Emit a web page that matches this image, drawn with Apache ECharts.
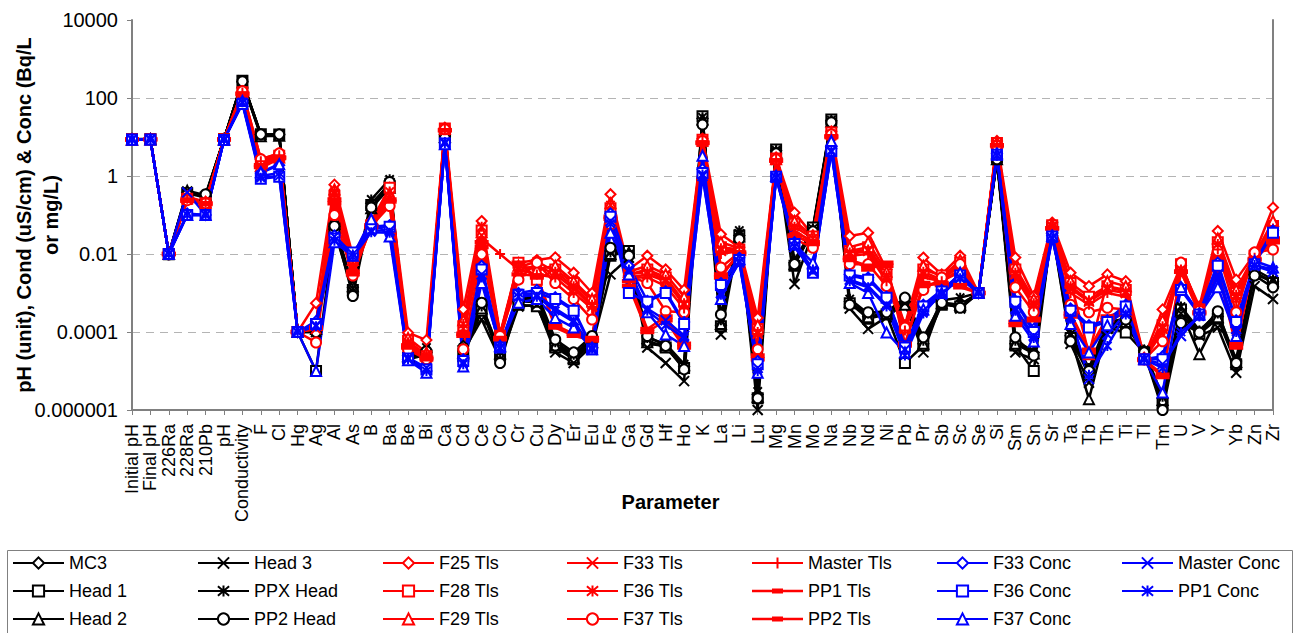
<!DOCTYPE html>
<html>
<head>
<meta charset="utf-8">
<script src="https://cdn.jsdelivr.net/npm/echarts@6/dist/echarts.min.js"></script>
<style>
  html, body { margin: 0; padding: 0; background: #fff; }
  #chart { width: 1296px; height: 633px; }
</style>
</head>
<body>
<div id="chart"></div>
<script>
// Parameters along the x axis
const categories = ['Initial pH', 'Final pH', '226Ra', '228Ra', '210Pb', 'pH', 'Conductivity', 'F', 'Cl', 'Hg',
  'Ag', 'Al', 'As', 'B', 'Ba', 'Be', 'Bi', 'Ca', 'Cd', 'Ce',
  'Co', 'Cr', 'Cu', 'Dy', 'Er', 'Eu', 'Fe', 'Ga', 'Gd', 'Hf',
  'Ho', 'K', 'La', 'Li', 'Lu', 'Mg', 'Mn', 'Mo', 'Na', 'Nb',
  'Nd', 'Ni', 'Pb', 'Pr', 'Sb', 'Sc', 'Se', 'Si', 'Sm', 'Sn',
  'Sr', 'Ta', 'Tb', 'Th', 'Ti', 'Tl', 'Tm', 'U', 'V', 'Y',
  'Yb', 'Zn', 'Zr'];

// Log-axis tick values (labels)
const yTicks = [1e-6, 1e-4, 1e-2, 1, 100, 10000];
const yTickLabels = ['0.000001', '0.0001', '0.01', '1', '100', '10000'];

// Head samples (black)
const mc3 = [8.8, 8.9, 1.01e-2, 0.38, 0.30, 8.9, 260, 11.5, 11.4, 1e-4,
  1.1e-4, 0.05, 1.4e-3, 0.2, 0.6, 2.5e-5, 3e-5, 10.6, 4.4e-5, 5e-4,
  3e-5, 6e-4, 8e-4, 5e-5, 2.5e-5, 6e-5, 0.012, 0.01, 5e-5, 4.4e-5,
  1.3e-5, 30, 1.5e-4, 0.03, 2.5e-6, 4.5, 6e-3, 0.04, 26, 6e-4,
  2.5e-4, 3e-4, 6e-4, 5e-5, 5.6e-4, 5e-4, 1e-3, 2.8, 5e-5, 3e-5,
  0.045, 8e-5, 1e-5, 1.5e-4, 2e-4, 3.3e-5, 2e-6, 4e-4, 1e-4, 2.5e-4,
  1.8e-5, 3e-3, 2e-3];
const head1 = [8.7, 8.8, 9.9e-3, 0.36, 0.28, 8.8, 275, 11.8, 11.6, 1e-4,
  1e-5, 0.045, 1.2e-3, 0.18, 0.55, 2.2e-5, 2.5e-5, 11, 2.4e-5, 3.5e-4,
  2.5e-5, 5e-4, 4.6e-4, 4e-5, 2e-5, 5e-5, 9e-3, 0.012, 6e-5, 4e-5,
  1.2e-5, 34, 1.4e-4, 0.03, 2e-6, 4.8, 5e-3, 0.048, 28, 5.5e-4,
  2.2e-4, 2.8e-4, 1.6e-5, 4.5e-5, 5e-4, 4.5e-4, 1e-3, 3.0, 4.5e-5, 1e-5,
  0.05, 7e-5, 8e-6, 1.3e-4, 9.7e-5, 3e-5, 1.5e-6, 3.8e-4, 9e-5, 2.2e-4,
  1.5e-5, 3.5e-3, 1.8e-3];
const head2 = [8.6, 8.7, 1e-2, 0.42, 0.32, 8.8, 250, 10.5, 10.8, 1e-4,
  1.2e-4, 0.06, 1.5e-3, 0.15, 0.5, 2.4e-5, 2.8e-5, 10, 3e-5, 4e-4,
  2.8e-5, 6e-4, 6e-4, 4.5e-5, 2.2e-5, 5.5e-5, 0.01, 0.011, 5.5e-5, 4.5e-5,
  1.4e-5, 28, 1.6e-4, 0.028, 2.2e-6, 4.2, 5.5e-3, 0.042, 25, 6e-4,
  2.4e-4, 3e-4, 5e-4, 5e-5, 5.5e-4, 5e-4, 1e-3, 2.7, 5e-5, 2.8e-5,
  0.048, 7.5e-5, 1.9e-6, 1.4e-4, 1.8e-4, 3.2e-5, 1.8e-6, 3.5e-4, 2.7e-5, 2.4e-4,
  1.7e-5, 3.2e-3, 2e-3];
const head3 = [8.8, 8.9, 1.02e-2, 0.40, 0.29, 9.0, 280, 10.9, 11.0, 1e-4,
  1e-4, 0.04, 1.1e-3, 0.17, 0.65, 2e-5, 2.6e-5, 10.2, 3.2e-5, 2.1e-4,
  2e-5, 4.5e-4, 5e-4, 3e-5, 1.6e-5, 4.5e-5, 3e-3, 8e-3, 4e-5, 1.6e-5,
  5.5e-6, 25, 8.6e-5, 0.032, 1e-6, 4.0, 1.7e-3, 0.035, 22, 4e-4,
  1.2e-4, 2.4e-4, 5.5e-4, 3e-5, 6e-4, 4e-4, 1e-3, 2.6, 3e-5, 2e-5,
  0.04, 5e-5, 5e-6, 1.2e-4, 1.5e-4, 3e-5, 1.2e-6, 3e-4, 8e-5, 1.3e-4,
  9e-6, 1.5e-3, 7e-4];
const ppxHead = [8.7, 8.8, 1e-2, 0.35, 0.31, 8.9, 265, 11.2, 11.5, 1e-4,
  1.3e-4, 0.055, 1.3e-3, 0.25, 0.82, 2.6e-5, 4e-5, 10.8, 4e-5, 4.5e-4,
  3e-5, 7e-4, 9e-4, 5.5e-5, 2.6e-5, 6.5e-5, 0.011, 0.01, 7e-5, 5e-5,
  1.5e-5, 32, 2e-4, 0.04, 3e-6, 4.6, 7e-3, 0.045, 27, 7e-4,
  3e-4, 3.5e-4, 6.5e-4, 6e-5, 6.5e-4, 7.6e-4, 1e-3, 2.9, 6e-5, 3.2e-5,
  0.055, 9e-5, 1.2e-5, 1.8e-4, 2.2e-4, 3.5e-5, 2.2e-6, 4.5e-4, 1.1e-4, 3e-4,
  2e-5, 4e-3, 2.2e-3];
const pp2Head = [8.7, 8.8, 9.8e-3, 0.33, 0.34, 8.8, 270, 11.7, 11.7, 1e-4,
  1e-4, 0.052, 8.4e-4, 0.155, 0.7, 2.3e-5, 3.2e-5, 9.5, 3.5e-5, 5.6e-4,
  1.6e-5, 5.6e-4, 1e-3, 6.4e-5, 3e-5, 7.9e-5, 0.0145, 9e-3, 7.9e-5, 4.4e-5,
  1.1e-5, 21, 2.8e-4, 0.024, 2e-6, 3.8, 5.5e-3, 0.038, 24, 5e-4,
  3.2e-4, 3.2e-4, 7.6e-4, 7.3e-5, 5.6e-4, 4.2e-4, 1e-3, 2.7, 7.3e-5, 2.5e-5,
  0.042, 5.8e-5, 1e-5, 1.6e-4, 2.1e-4, 3e-5, 1e-6, 1.7e-4, 9.7e-5, 3.4e-4,
  1.6e-5, 2.8e-3, 1.4e-3];

// Tailings (red)
const f25Tls = [8.8, 8.8, 1e-2, 0.28, 0.22, 8.7, 150, 2.7, 3.8, 1e-4,
  5.5e-4, 0.6, 9e-3, 0.07, 0.5, 9.6e-5, 6.2e-5, 17.4, 3.8e-4, 0.07,
  9e-5, 6e-3, 7e-3, 8.2e-3, 3.3e-3, 1e-3, 0.34, 4e-3, 9e-3, 4e-3,
  1.2e-3, 9, 0.032, 0.015, 2.3e-4, 3, 0.115, 0.03, 14, 0.029,
  0.035, 4e-3, 1.5e-4, 8.1e-3, 3e-3, 9e-3, 1e-3, 7.9, 8.1e-3, 8.3e-4,
  0.064, 3.3e-3, 1.5e-3, 3e-3, 2e-3, 2.2e-5, 3.8e-4, 5e-3, 4.5e-4, 0.039,
  2.2e-3, 0.01, 0.155];
const f28Tls = [8.7, 8.7, 1e-2, 0.26, 0.2, 8.7, 140, 2.2, 3.3, 1e-4,
  1.5e-4, 0.31, 8.5e-3, 0.055, 0.5, 6e-5, 2.4e-5, 16.5, 1.4e-4, 0.04,
  8e-5, 6e-3, 2.2e-3, 4e-3, 1.8e-3, 6e-4, 0.15, 3e-3, 4e-3, 2.5e-3,
  6e-4, 8.5, 0.015, 0.013, 1.2e-4, 2.8, 0.06, 0.028, 13, 0.012,
  0.015, 3e-3, 1.3e-4, 4e-3, 2.8e-3, 6e-3, 1e-3, 7, 4e-3, 6e-4,
  0.055, 1.8e-3, 8e-4, 1.5e-3, 1.2e-3, 2e-5, 1.5e-4, 5.5e-3, 3.8e-4, 0.02,
  1e-3, 9e-3, 0.052];
const f29Tls = [8.6, 8.8, 1e-2, 0.30, 0.21, 8.6, 135, 1.8, 3.0, 1e-4,
  1.6e-4, 0.45, 7e-3, 0.06, 0.35, 7e-5, 3e-5, 16, 2e-4, 0.036,
  8.5e-5, 5e-3, 4e-3, 5e-3, 2e-3, 7e-4, 0.2, 3.5e-3, 5e-3, 3e-3,
  8e-4, 8, 0.02, 0.014, 1.5e-4, 2.7, 0.07, 0.029, 12.5, 0.015,
  0.02, 3.5e-3, 1.4e-4, 5e-3, 2.5e-3, 7e-3, 1e-3, 7.2, 4.5e-3, 7e-4,
  0.058, 2e-3, 2.7e-5, 2e-3, 1.5e-3, 2.1e-5, 2e-4, 5e-3, 4e-4, 0.025,
  1.2e-3, 9.5e-3, 0.07];
const f33Tls = [8.7, 8.7, 1e-2, 0.25, 0.19, 8.7, 130, 1.6, 2.8, 1e-4,
  1.2e-4, 0.35, 5e-3, 0.05, 0.3, 5e-5, 2.2e-5, 15, 1.2e-4, 0.03,
  7e-5, 4e-3, 5e-3, 3e-3, 1.3e-3, 4.5e-4, 0.12, 2.5e-3, 3e-3, 2e-3,
  5e-4, 7.5, 0.012, 0.012, 9e-5, 2.6, 0.04, 0.02, 11, 0.01,
  0.012, 2.5e-3, 1.2e-4, 3e-3, 2e-3, 4e-3, 1e-3, 6.5, 3e-3, 5e-4,
  0.05, 1.3e-3, 6e-4, 1.2e-3, 1e-3, 2e-5, 1.2e-4, 4e-3, 3.5e-4, 0.015,
  8e-4, 8e-3, 0.04];
const f36Tls = [8.7, 8.8, 1e-2, 0.27, 0.2, 8.7, 145, 2.0, 3.2, 1e-4,
  1.4e-4, 0.4, 6e-3, 0.058, 0.4, 5.5e-5, 2.6e-5, 16.2, 1.6e-4, 0.05,
  8e-5, 4.5e-3, 6.5e-3, 3.5e-3, 1.5e-3, 5e-4, 0.18, 3e-3, 3.5e-3, 2.2e-3,
  5.5e-4, 8.2, 0.014, 0.013, 1e-4, 2.7, 0.05, 0.025, 12, 0.011,
  0.013, 2.8e-3, 1.3e-4, 3.5e-3, 2.2e-3, 5e-3, 1e-3, 6.8, 3.3e-3, 5.5e-4,
  0.052, 1.5e-3, 6.5e-4, 1.4e-3, 1.1e-3, 2e-5, 1.4e-4, 4.5e-3, 3.8e-4, 0.018,
  9e-4, 8.5e-3, 0.045];
const f37Tls = [8.6, 8.7, 1e-2, 0.24, 0.2, 8.6, 150, 2.7, 3.8, 1e-4,
  5.4e-5, 0.1, 2.8e-3, 0.052, 0.17, 3.5e-5, 2e-5, 15.8, 3.6e-5, 9.8e-3,
  7.9e-5, 2.2e-3, 6e-3, 1.8e-3, 7e-4, 2.1e-4, 0.058, 2.8e-3, 1.8e-3, 3.4e-4,
  3.2e-4, 7.9, 4.5e-3, 0.011, 3.6e-5, 2.7, 0.024, 0.0145, 11.7, 5.5e-3,
  5.5e-3, 1.5e-3, 1.3e-4, 1.2e-3, 2.5e-3, 5.5e-3, 1e-3, 5.9, 1.4e-3, 3.2e-4,
  0.039, 5e-4, 3.2e-4, 4.2e-4, 3.8e-4, 2e-5, 5.8e-5, 6e-3, 3.5e-4, 0.012,
  3.2e-4, 0.011, 0.013];
const masterTls = [8.7, 8.8, 1e-2, 0.26, 0.21, 8.7, 138, 2.4, 3.4, 1e-4,
  1.8e-4, 0.3, 4e-3, 0.06, 0.3, 5e-5, 2.5e-5, 15.5, 1.1e-4, 0.025,
  1e-2, 4e-3, 3e-3, 2.5e-3, 1e-3, 4e-4, 0.1, 2.5e-3, 2.5e-3, 1.5e-3,
  4e-4, 7.8, 0.01, 0.012, 8e-5, 2.6, 0.035, 0.022, 11, 9e-3,
  0.01, 2e-3, 1.1e-4, 2.5e-3, 2e-3, 3.5e-3, 1e-3, 6.5, 2.5e-3, 4.5e-4,
  0.048, 1e-3, 5e-4, 1e-3, 8e-4, 2e-5, 1e-4, 4e-3, 3.5e-4, 0.013,
  6e-4, 8e-3, 0.035];
const pp1Tls = [8.6, 8.7, 1e-2, 0.25, 0.2, 8.6, 125, 1.7, 2.9, 1e-4,
  1.3e-4, 0.25, 3.5e-3, 0.055, 0.25, 4.5e-5, 2.2e-5, 14.8, 9e-5, 0.02,
  7e-5, 6e-3, 2.5e-3, 1.3e-4, 8e-5, 6e-5, 0.09, 1.5e-3, 1e-4, 2e-4,
  4e-5, 7, 2.5e-3, 0.011, 2e-5, 2.5, 0.03, 0.018, 10.5, 8e-3,
  4e-3, 6e-3, 5e-5, 1.5e-3, 1.8e-3, 1.4e-3, 1e-3, 6, 1.5e-4, 2e-4,
  0.045, 2.5e-4, 3e-5, 2e-4, 3e-4, 1.9e-5, 7e-6, 3.5e-3, 3e-4, 4e-3,
  4e-5, 7.5e-3, 0.02];
const pp2Tls = [8.7, 8.7, 1e-2, 0.23, 0.19, 8.7, 130, 1.9, 3.0, 1e-4,
  1.2e-4, 0.2, 3e-3, 0.05, 0.22, 4e-5, 2e-5, 15, 8e-5, 0.015,
  6.5e-5, 3e-3, 2.8e-3, 1.5e-4, 9e-5, 7e-5, 0.08, 2e-3, 1.2e-4, 2.5e-4,
  5e-5, 7.2, 3e-3, 0.01, 2.5e-5, 2.5, 0.028, 0.02, 10, 7e-3,
  5e-3, 5e-3, 4.5e-5, 1.8e-3, 1.6e-3, 1.6e-3, 1e-3, 6.2, 1.8e-4, 2.2e-4,
  0.046, 3e-4, 3.5e-5, 2.5e-4, 3.5e-4, 2e-5, 8e-6, 3.5e-3, 3.2e-4, 5e-3,
  5e-5, 7e-3, 0.025];

// Concentrates (blue)
const f33Conc = [8.6, 8.7, 1e-2, 0.11, 0.1, 8.5, 80, 1.2, 1.9, 1e-4,
  1.9e-4, 0.03, 9.5e-3, 0.05, 0.055, 2e-5, 1e-5, 7, 2e-5, 5e-3,
  4.4e-5, 1e-3, 1.2e-3, 7.8e-4, 3.8e-4, 4e-5, 0.11, 5e-3, 6.3e-4, 1.1e-3,
  1.8e-4, 1.5, 1.8e-3, 8e-3, 1.8e-5, 1, 0.02, 4e-3, 5, 3e-3,
  2.5e-3, 8e-4, 4.4e-5, 5e-4, 1.2e-3, 3e-3, 1e-3, 3.8, 6.3e-4, 1.2e-4,
  0.03, 4e-4, 1.5e-4, 2e-4, 5e-4, 2e-5, 2.4e-5, 1.4e-3, 3e-4, 6e-3,
  2e-4, 6e-3, 0.04];
const f36Conc = [8.6, 8.6, 1e-2, 0.1, 0.1, 8.4, 70, 0.85, 0.95, 1e-4,
  1.6e-4, 0.025, 0.011, 0.045, 0.05, 2.1e-5, 1.1e-5, 6.8, 1.8e-5, 4e-3,
  4e-5, 9e-4, 1e-3, 7e-4, 3.5e-4, 3.6e-5, 0.09, 1e-3, 6e-4, 1e-3,
  1.6e-4, 1.2, 1.6e-3, 7e-3, 1.5e-5, 0.95, 0.018, 3.3e-3, 4.4, 2.8e-3,
  2.2e-3, 7.6e-4, 4e-5, 4.5e-4, 1.1e-3, 2.8e-3, 1e-3, 3.5, 6e-4, 1e-4,
  0.028, 3.5e-4, 1.3e-4, 1.8e-4, 4.5e-4, 2e-5, 2e-5, 1.2e-3, 2.8e-4, 5e-3,
  1.8e-4, 5.5e-3, 0.035];
const f37Conc = [8.5, 8.6, 1e-2, 0.1, 0.1, 8.4, 84, 1.25, 2.0, 1e-4,
  1e-5, 0.02, 9e-3, 0.078, 0.028, 1.9e-5, 9e-6, 6.5, 1.3e-5, 1.8e-3,
  4.4e-5, 5.6e-4, 7e-4, 2.3e-4, 1.3e-4, 3.6e-5, 0.035, 3e-3, 3.2e-4, 8.6e-5,
  4.4e-5, 3.3, 7e-4, 7.4e-3, 9e-6, 1, 0.018, 6e-3, 7.9, 1.8e-3,
  1e-3, 9.7e-5, 3e-5, 3.8e-4, 1e-3, 3.3e-3, 1e-3, 3.6, 2.6e-4, 5.7e-5,
  0.029, 1.6e-4, 3e-5, 1.5e-4, 3.8e-4, 2e-5, 2.8e-6, 1.4e-3, 2.8e-4, 1.4e-3,
  7.9e-5, 6.6e-3, 4.5e-3];
const masterConc = [8.6, 8.7, 1e-2, 0.38, 0.1, 8.5, 75, 1.0, 1.2, 1e-4,
  1.5e-4, 0.028, 0.01, 0.04, 0.04, 2.2e-5, 1.2e-5, 7.2, 1.7e-5, 3e-3,
  3.8e-5, 8e-4, 9e-4, 4e-4, 2e-4, 3.5e-5, 0.07, 3.5e-3, 4e-4, 2e-4,
  8e-5, 1, 1e-3, 6e-3, 1.2e-5, 0.9, 0.015, 3.5e-3, 4.2, 2.2e-3,
  1.5e-3, 5e-4, 3.5e-5, 3.5e-4, 9e-4, 2.5e-3, 1e-3, 3.4, 4e-4, 8e-5,
  0.026, 2.5e-4, 6.2e-6, 8.6e-5, 3e-4, 2e-5, 1.5e-5, 7.9e-5, 2.6e-4, 3e-3,
  1.2e-4, 5e-3, 3.5e-3];
const pp1Conc = [8.6, 8.6, 1e-2, 0.1, 0.1, 8.4, 78, 0.9, 1.0, 1e-4,
  1.4e-4, 0.022, 8.5e-3, 0.036, 0.035, 2e-5, 1e-5, 6.9, 1.5e-5, 2.5e-3,
  4e-5, 1e-3, 8e-4, 3.5e-4, 1.8e-4, 3.8e-5, 0.06, 4e-3, 3.5e-4, 1.5e-4,
  7e-5, 1.1, 9e-4, 6.5e-3, 1e-5, 0.92, 0.016, 4e-3, 4.5, 2e-3,
  1.4e-3, 4.5e-4, 2.5e-5, 3e-4, 1e-3, 2.4e-3, 1e-3, 3.3, 3.5e-4, 7e-5,
  0.025, 2.2e-4, 8e-6, 4.4e-5, 2.8e-4, 2e-5, 1.2e-5, 1e-4, 2.5e-4, 2.5e-3,
  1e-4, 5.2e-3, 4e-3];

// Marker shapes
const SYM = {
  diamond: 'emptyDiamond',
  square: 'emptyRect',
  triangle: 'emptyTriangle',
  circle: 'emptyCircle',
  cross: 'path://M0,0L10,10M10,0L0,10',
  star: 'path://M0,0L10,10M10,0L0,10M5,-1L5,11',
  plus: 'path://M5,0L5,10M0,5L10,5',
  dash: 'path://M0,4L10,4L10,6L0,6Z'
};
// Legend icon for the dash-marked series: line with a short thick bar in the middle
const DASH_LEGEND_ICON = 'path://M0,5.75L51,5.75L51,8.25L0,8.25Z M20,4.5L31,4.5L31,9.5L20,9.5Z';

const BLACK = '#000000', RED = '#ff0000', BLUE = '#0000ff';

// Series in drawing order
const seriesDefs = [
  ['MC3', mc3, BLACK, 'diamond'],
  ['Head 1', head1, BLACK, 'square'],
  ['Head 2', head2, BLACK, 'triangle'],
  ['Head 3', head3, BLACK, 'cross'],
  ['PPX Head', ppxHead, BLACK, 'star'],
  ['PP2 Head', pp2Head, BLACK, 'circle'],
  ['F25 Tls', f25Tls, RED, 'diamond'],
  ['F28 Tls', f28Tls, RED, 'square'],
  ['F29 Tls', f29Tls, RED, 'triangle'],
  ['F33 Tls', f33Tls, RED, 'cross'],
  ['F36 Tls', f36Tls, RED, 'star'],
  ['F37 Tls', f37Tls, RED, 'circle'],
  ['Master Tls', masterTls, RED, 'plus'],
  ['PP1 Tls', pp1Tls, RED, 'dash'],
  ['PP2 Tls', pp2Tls, RED, 'dash'],
  ['F33 Conc', f33Conc, BLUE, 'diamond'],
  ['F36 Conc', f36Conc, BLUE, 'square'],
  ['F37 Conc', f37Conc, BLUE, 'triangle'],
  ['Master Conc', masterConc, BLUE, 'cross'],
  ['PP1 Conc', pp1Conc, BLUE, 'star']
];

// Legend columns (left to right), each listed top to bottom
const legendColumns = [
  ['MC3', 'Head 1', 'Head 2'],
  ['Head 3', 'PPX Head', 'PP2 Head'],
  ['F25 Tls', 'F28 Tls', 'F29 Tls'],
  ['F33 Tls', 'F36 Tls', 'F37 Tls'],
  ['Master Tls', 'PP1 Tls', 'PP2 Tls'],
  ['F33 Conc', 'F36 Conc', 'F37 Conc'],
  ['Master Conc', 'PP1 Conc']
];
const legendLeft = [12, 197, 382, 566, 751, 936, 1121];

const FONT = '"Liberation Sans", Arial, Helvetica, sans-serif';
const AXIS_GREY = '#808080';

function labelForValue(v) {
  const e = Math.round(Math.log10(v));
  const idx = yTicks.findIndex(t => Math.round(Math.log10(t)) === e);
  return idx >= 0 ? yTickLabels[idx] : '';
}

const dashNames = seriesDefs.filter(d => d[3] === 'dash').map(d => d[0]);

const series = seriesDefs.map(([name, data, color, shape]) => ({
  name: name,
  type: 'line',
  data: data,
  symbol: SYM[shape],
  symbolSize: shape === 'dash' ? 12 : 10,
  symbolKeepAspect: true,
  showAllSymbol: true,
  lineStyle: { color: color, width: 2.5 },
  itemStyle: { color: color, borderColor: color, borderWidth: 2 },
  emphasis: { disabled: true },
  silent: true,
  animation: false
}));

const legends = legendColumns.map((names, i) => ({
  orient: 'vertical',
  left: legendLeft[i],
  top: 554,
  padding: 0,
  itemWidth: 51,
  itemHeight: 14,
  itemGap: 10,
  selectedMode: false,
  textStyle: { fontSize: 18, fontFamily: FONT, color: '#000', lineHeight: 18 },
  data: names.map(n => dashNames.includes(n)
    ? { name: n, icon: DASH_LEGEND_ICON, itemStyle: { borderWidth: 0 } }
    : n)
}));

const chart = echarts.init(document.getElementById('chart'), null, { renderer: 'svg' });
chart.setOption({
  backgroundColor: '#fff',
  animation: false,
  grid: { left: 132, right: 23, top: 20, bottom: 223, containLabel: false, outerBoundsMode: 'none' },
  legend: legends,
  xAxis: {
    type: 'category',
    data: categories,
    boundaryGap: false,
    name: 'Parameter',
    nameLocation: 'middle',
    nameGap: 82,
    nameMoveOverlap: false,
    nameTextStyle: { fontSize: 20, fontWeight: 'bold', fontFamily: FONT, color: '#000', padding: [0, 64, 0, 0] },
    axisLine: { lineStyle: { color: AXIS_GREY, width: 2 } },
    axisTick: { show: true, interval: 0, length: 5, lineStyle: { color: AXIS_GREY, width: 1 } },
    axisLabel: { interval: 0, rotate: 90, margin: 14, fontSize: 18, fontFamily: FONT, color: '#000' },
    splitLine: { show: false }
  },
  yAxis: [{
    type: 'log',
    logBase: 100,
    min: yTicks[0],
    max: yTicks[yTicks.length - 1],
    name: 'pH (unit), Cond (uS/cm) & Conc (Bq/L\nor mg/L)',
    nameLocation: 'middle',
    nameGap: 68,
    nameMoveOverlap: false,
    nameTextStyle: { fontSize: 20, fontWeight: 'bold', fontFamily: FONT, color: '#000', lineHeight: 27 },
    axisLine: { show: true, lineStyle: { color: AXIS_GREY, width: 2 } },
    axisTick: { show: true, length: 5, lineStyle: { color: AXIS_GREY, width: 1 } },
    minorTick: { show: false },
    axisLabel: { margin: 14, fontSize: 20, fontFamily: FONT, color: '#000', formatter: labelForValue },
    splitLine: {
      show: true, showMinLine: false, showMaxLine: false,
      lineStyle: { color: '#b4b4b4', width: 1, type: [8, 6] }
    }
  }, {
    type: 'value',
    position: 'right',
    min: 0,
    max: 1,
    axisLine: { show: true, lineStyle: { color: AXIS_GREY, width: 2 } },
    axisTick: { show: false },
    axisLabel: { show: false },
    splitLine: { show: false }
  }],
  graphic: [{
    type: 'rect',
    left: 5,
    top: 548,
    shape: { width: 1285, height: 120 },
    style: { fill: 'none', stroke: '#808080', lineWidth: 1 },
    silent: true
  }],
  series: series
});
</script>
</body>
</html>
